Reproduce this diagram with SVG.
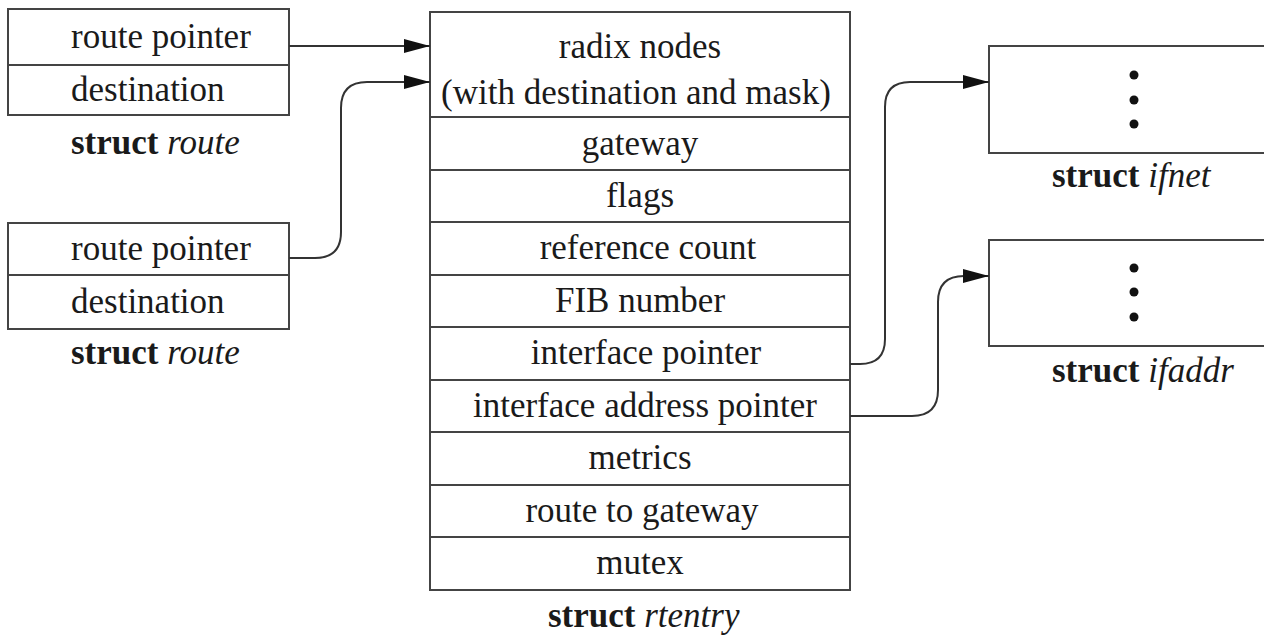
<svg xmlns="http://www.w3.org/2000/svg" width="1264" height="637" viewBox="0 0 1264 637">
<style>
.box{fill:#fff;stroke:#444;stroke-width:2}
.div{stroke:#444;stroke-width:2}
.t{font-family:"Liberation Serif","Times New Roman",serif;font-size:35px;fill:#1a1a1a}
.c{text-anchor:middle}
.b{font-weight:bold}
.i{font-style:italic}
.conn{fill:none;stroke:#333;stroke-width:2}
</style>
<defs>
<marker id="arr" markerWidth="26" markerHeight="16" refX="26" refY="8" orient="auto" markerUnits="userSpaceOnUse">
<path d="M0,1 L26,8 L0,15 Z" fill="#111"/>
</marker>
</defs>
<rect width="1264" height="637" fill="#fff"/>
<g id="route1">
<rect class="box" x="8" y="9" width="281" height="106"/>
<line class="div" x1="8" y1="65" x2="289" y2="65"/>
<text class="t" x="71" y="48">route pointer</text>
<text class="t" x="71" y="101">destination</text>
<text class="t" x="71" y="154"><tspan class="b">struct</tspan> <tspan class="i">route</tspan></text>
</g>
<g id="route2">
<rect class="box" x="8" y="223" width="281" height="106"/>
<line class="div" x1="8" y1="275" x2="289" y2="275"/>
<text class="t" x="71" y="260">route pointer</text>
<text class="t" x="71" y="313">destination</text>
<text class="t" x="71" y="364"><tspan class="b">struct</tspan> <tspan class="i">route</tspan></text>
</g>
<g id="rtentry">
<rect class="box" x="430" y="12" width="420" height="578"/>
<line class="div" x1="430" y1="117" x2="850" y2="117"/>
<line class="div" x1="430" y1="170" x2="850" y2="170"/>
<line class="div" x1="430" y1="222" x2="850" y2="222"/>
<line class="div" x1="430" y1="275" x2="850" y2="275"/>
<line class="div" x1="430" y1="327" x2="850" y2="327"/>
<line class="div" x1="430" y1="380" x2="850" y2="380"/>
<line class="div" x1="430" y1="432" x2="850" y2="432"/>
<line class="div" x1="430" y1="485" x2="850" y2="485"/>
<line class="div" x1="430" y1="537" x2="850" y2="537"/>
<text class="t c" x="640" y="58">radix nodes</text>
<text class="t c" x="636" y="104">(with destination and mask)</text>
<text class="t c" x="640" y="155">gateway</text>
<text class="t c" x="640" y="207">flags</text>
<text class="t c" x="648" y="259">reference count</text>
<text class="t c" x="640" y="312">FIB number</text>
<text class="t c" x="646" y="364">interface pointer</text>
<text class="t c" x="645" y="417">interface address pointer</text>
<text class="t c" x="640" y="469">metrics</text>
<text class="t c" x="642" y="522">route to gateway</text>
<text class="t c" x="640" y="574">mutex</text>
<text class="t" x="548" y="627"><tspan class="b">struct</tspan> <tspan class="i">rtentry</tspan></text>
</g>
<g id="ifnet">
<rect class="box" x="989" y="46" width="300" height="107"/>
<circle cx="1134" cy="75" r="4.5" fill="#111"/>
<circle cx="1134" cy="100" r="4.5" fill="#111"/>
<circle cx="1134" cy="124" r="4.5" fill="#111"/>
<text class="t" x="1052" y="187"><tspan class="b">struct</tspan> <tspan class="i">ifnet</tspan></text>
</g>
<g id="ifaddr">
<rect class="box" x="989" y="240" width="300" height="106"/>
<circle cx="1134" cy="268" r="4.5" fill="#111"/>
<circle cx="1134" cy="292" r="4.5" fill="#111"/>
<circle cx="1134" cy="317" r="4.5" fill="#111"/>
<text class="t" x="1052" y="382"><tspan class="b">struct</tspan> <tspan class="i">ifaddr</tspan></text>
</g>
<g id="connectors">
<path class="conn" marker-end="url(#arr)" d="M289,46 L430,46"/>
<path class="conn" marker-end="url(#arr)" d="M289,258 L315,258 Q341,258 341,232 L341,108 Q341,82 367,82 L430,82"/>
<path class="conn" marker-end="url(#arr)" d="M850,364 L860,364 Q885,364 885,339 L885,107 Q885,82 910,82 L989,82"/>
<path class="conn" marker-end="url(#arr)" d="M850,416 L912,416 Q938,416 938,390 L938,302 Q938,276 964,276 L989,276"/>
</g>
</svg>
